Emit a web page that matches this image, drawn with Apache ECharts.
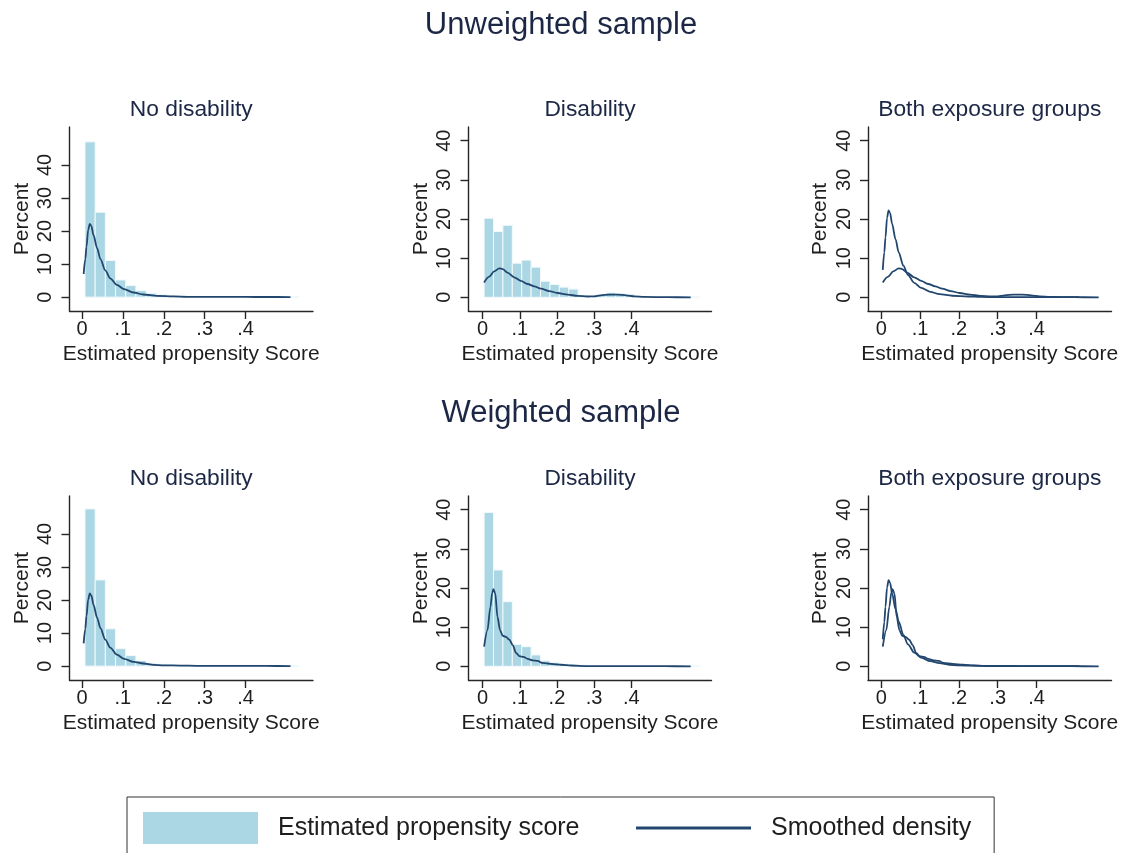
<!DOCTYPE html>
<html><head><meta charset="utf-8">
<script src="https://cdn.jsdelivr.net/npm/echarts@6/dist/echarts.min.js"></script>
<style>html,body{margin:0;padding:0;background:#fff}#c{width:1123px;height:853px}</style>
</head><body><div id="c"></div>
<script>
// ---------- text ----------
const rowTitles = ['Unweighted sample', 'Weighted sample'];
const panelTitles = ['No disability', 'Disability', 'Both exposure groups'];
const xAxisTitle = 'Estimated propensity Score';
const yAxisTitle = 'Percent';
const xTickValues = [0, 0.1, 0.2, 0.3, 0.4];
const xTickLabels = ['0', '.1', '.2', '.3', '.4'];
const yTickValues = [0, 10, 20, 30, 40];
const yTickLabels = ['0', '10', '20', '30', '40'];
const legendNames = ['Estimated propensity score', 'Smoothed density'];

// ---------- histogram bins (first left edge, bin width) ----------
const binStartNoDis = 0.0073, binWidthNoDis = 0.0249;
const binStartDis = 0.004, binWidthDis = 0.0253;

// ---------- histogram heights (percent) ----------
const histUnwNoDis = [47.0, 25.7, 11.1, 5.2, 3.5, 2.0, 1.2, 0.8, 0.5, 0.4, 0.3, 0.25, 0.2, 0.2, 0.15, 0.15, 0.1, 0.1, 0.1, 0.1, 0.1];
const histUnwDis = [20.2, 16.8, 18.4, 8.7, 9.5, 7.7, 4.1, 3.3, 2.6, 2.1, 0.5, 0.3, 0.8, 1.2, 1.0, 0.8, 0.3, 0.2, 0.1, 0.1, 0.1, 0.1, 0.1];
const histWNoDis = [47.6, 26.1, 11.3, 5.3, 3.2, 1.7, 0.9, 0.6, 0.4, 0.3, 0.3, 0.2, 0.2, 0.2, 0.15, 0.15, 0.1, 0.1, 0.1, 0.1, 0.1];
const histWDis = [39.3, 24.6, 16.5, 5.6, 5.0, 2.9, 1.4, 1.0, 0.6, 0.5, 0.3, 0.2, 0.2, 0.2, 0.2, 0.15, 0.1, 0.1, 0.1, 0.1, 0.1, 0.1, 0.1];

// ---------- smoothed densities [score, value] ----------
const densUnwNoDis = [[0.004,7.0],[0.008,11.5],[0.011,15.3],[0.015,20.3],[0.019,22.2],[0.023,21.5],[0.028,18.8],[0.037,14.8],[0.045,11.5],[0.057,8.1],[0.069,5.7],[0.085,3.7],[0.103,2.4],[0.126,1.4],[0.150,0.8],[0.183,0.4],[0.224,0.2],[0.256,0.1],[0.30,0.06],[0.35,0.05],[0.40,0.05],[0.45,0.04],[0.51,0.03]];
const densUnwDis = [[0.004,3.8],[0.018,5.3],[0.031,6.6],[0.045,7.4],[0.054,7.2],[0.067,6.3],[0.085,5.1],[0.103,4.2],[0.121,3.4],[0.139,2.8],[0.157,2.2],[0.179,1.6],[0.202,1.1],[0.229,0.7],[0.256,0.35],[0.283,0.2],[0.300,0.25],[0.318,0.5],[0.341,0.7],[0.363,0.7],[0.386,0.5],[0.408,0.25],[0.435,0.1],[0.498,0.02],[0.56,0.0]];
const densWNoDis = [[0.004,6.9],[0.008,11.3],[0.011,15.2],[0.015,20.1],[0.019,22.0],[0.023,21.3],[0.028,18.6],[0.037,14.6],[0.045,11.5],[0.057,8.0],[0.069,5.6],[0.085,3.5],[0.103,2.2],[0.126,1.3],[0.150,0.8],[0.175,0.4],[0.2,0.25],[0.24,0.15],[0.28,0.1],[0.32,0.08],[0.36,0.06],[0.40,0.06],[0.45,0.05],[0.51,0.03]];
const densWDis = [[0.004,5.0],[0.013,9.2],[0.021,15.2],[0.026,18.8],[0.029,19.7],[0.034,18.6],[0.040,12.6],[0.047,9.2],[0.054,7.8],[0.063,7.5],[0.072,6.8],[0.081,5.4],[0.090,3.4],[0.099,2.6],[0.110,2.4],[0.121,1.9],[0.135,1.5],[0.148,1.4],[0.161,0.85],[0.184,0.6],[0.211,0.4],[0.238,0.2],[0.283,0.05],[0.35,0.05],[0.42,0.03],[0.49,0.02],[0.56,0.0]];

// ---------- styling / layout ----------
const FONT = "'Liberation Sans', Arial, sans-serif";
const BAR = '#abd7e5';
const LINE = '#22466e';
const AXIS = '#262626';
const TXT = '#1e1e1e';
const TITLE = '#1c2745';
const colLeft = [69.5, 468.5, 868];
const colWidth = [243.5, 243, 243.5];
const rowTop = [127, 496];
const gridH = 184;
const xRange = [[-0.0306, 0.565], [-0.038, 0.616], [-0.034, 0.593]];
const yRange = [[-4.2, 51.5], [-3.5, 43.5], [-3.5, 43.5]];

const grids = [], xAxes = [], yAxes = [], series = [];
function fmt(vals, labels) {
  return v => { const i = vals.findIndex(t => Math.abs(t - v) < 1e-9); return i >= 0 ? labels[i] : ''; };
}
for (let r = 0; r < 2; r++) {
  for (let c = 0; c < 3; c++) {
    const gi = r * 3 + c;
    grids.push({left: colLeft[c], top: rowTop[r], width: colWidth[c], height: gridH, containLabel: false, outerBoundsMode: 'none'});
    xAxes.push({
      type: 'value', gridIndex: gi, min: xRange[c][0], max: xRange[c][1],
      axisLine: {show: true, onZero: false, lineStyle: {color: AXIS, width: 1.4}},
      axisTick: {show: true, customValues: xTickValues, length: 8, lineStyle: {color: AXIS, width: 1.4}},
      axisLabel: {customValues: xTickValues, formatter: fmt(xTickValues, xTickLabels), fontSize: 20, color: TXT, margin: 8, fontFamily: FONT},
      splitLine: {show: false},
      name: xAxisTitle, nameLocation: 'middle', nameGap: 33,
      nameTextStyle: {fontSize: 21, color: TXT, fontFamily: FONT}
    });
    yAxes.push({
      type: 'value', gridIndex: gi, min: yRange[c][0], max: yRange[c][1],
      axisLine: {show: true, onZero: false, lineStyle: {color: AXIS, width: 1.4}},
      axisTick: {show: true, customValues: yTickValues, length: 8, lineStyle: {color: AXIS, width: 1.4}},
      axisLabel: {customValues: yTickValues, formatter: fmt(yTickValues, yTickLabels), rotate: 90, fontSize: 20, color: TXT, margin: 14, fontFamily: FONT},
      splitLine: {show: false},
      name: yAxisTitle, nameLocation: 'middle', nameGap: 37,
      nameTextStyle: {fontSize: 21, color: TXT, fontFamily: FONT}
    });
  }
}

function histSeries(gi, start, width, heights) {
  const data = heights.map((h, i) => [start + i * width, start + (i + 1) * width, h]);
  return {
    type: 'custom', name: legendNames[0], xAxisIndex: gi, yAxisIndex: gi,
    itemStyle: {color: BAR}, silent: true, z: 1,
    encode: {x: [0, 1], y: 2},
    renderItem: (params, api) => {
      const p0 = api.coord([api.value(0), api.value(2)]);
      const p1 = api.coord([api.value(1), 0]);
      return {type: 'rect', shape: {x: p0[0], y: p0[1], width: p1[0] - p0[0], height: p1[1] - p0[1]},
              style: {fill: BAR, stroke: '#f2f9fb', lineWidth: 1}};
    },
    data
  };
}
function densSeries(gi, data) {
  return {
    type: 'line', name: legendNames[1], xAxisIndex: gi, yAxisIndex: gi,
    data, symbol: 'none', showSymbol: false, smooth: 0.3, smoothMonotone: 'x', silent: true, z: 3,
    lineStyle: {color: LINE, width: 1.8}, itemStyle: {color: LINE}
  };
}
series.push(histSeries(0, binStartNoDis, binWidthNoDis, histUnwNoDis));
series.push(densSeries(0, densUnwNoDis));
series.push(histSeries(1, binStartDis, binWidthDis, histUnwDis));
series.push(densSeries(1, densUnwDis));
series.push(densSeries(2, densUnwNoDis));
series.push(densSeries(2, densUnwDis));
series.push(histSeries(3, binStartNoDis, binWidthNoDis, histWNoDis));
series.push(densSeries(3, densWNoDis));
series.push(histSeries(4, binStartDis, binWidthDis, histWDis));
series.push(densSeries(4, densWDis));
series.push(densSeries(5, densWNoDis));
series.push(densSeries(5, densWDis));

const titles = [];
const rowTitleY = [25, 413];
const panelTitleY = [110, 479];
for (let r = 0; r < 2; r++) {
  titles.push({text: rowTitles[r], left: 561, top: rowTitleY[r], textAlign: 'center', textVerticalAlign: 'middle', padding: 0,
    textStyle: {fontSize: 31, fontWeight: 'normal', color: TITLE, fontFamily: FONT}});
  for (let c = 0; c < 3; c++) {
    titles.push({text: panelTitles[c], left: colLeft[c] + colWidth[c] / 2, top: panelTitleY[r], textAlign: 'center', textVerticalAlign: 'middle', padding: 0,
      textStyle: {fontSize: 22.8, fontWeight: 'normal', color: TITLE, fontFamily: FONT}});
  }
}

const chart = echarts.init(document.getElementById('c'), null, {renderer: 'canvas'});
chart.setOption({
  animation: false,
  backgroundColor: '#ffffff',
  textStyle: {fontFamily: FONT},
  title: titles,
  grid: grids, xAxis: xAxes, yAxis: yAxes,
  legend: {
    left: 127, top: 797, orient: 'horizontal', selectedMode: false,
    padding: [15, 23, 15, 16], borderColor: '#333', borderWidth: 1,
    itemGap: 55, itemWidth: 115, itemHeight: 32,
    textStyle: {fontSize: 25, color: TXT, fontFamily: FONT, padding: [3, 0, 0, 15]},
    data: [{name: legendNames[0], icon: 'rect', itemStyle: {color: BAR, borderWidth: 0}},
           {name: legendNames[1], itemStyle: {color: 'rgba(0,0,0,0)', opacity: 0, borderWidth: 0},
            lineStyle: {width: 3, color: LINE}}]
  },
  series
});
</script>
</body></html>
